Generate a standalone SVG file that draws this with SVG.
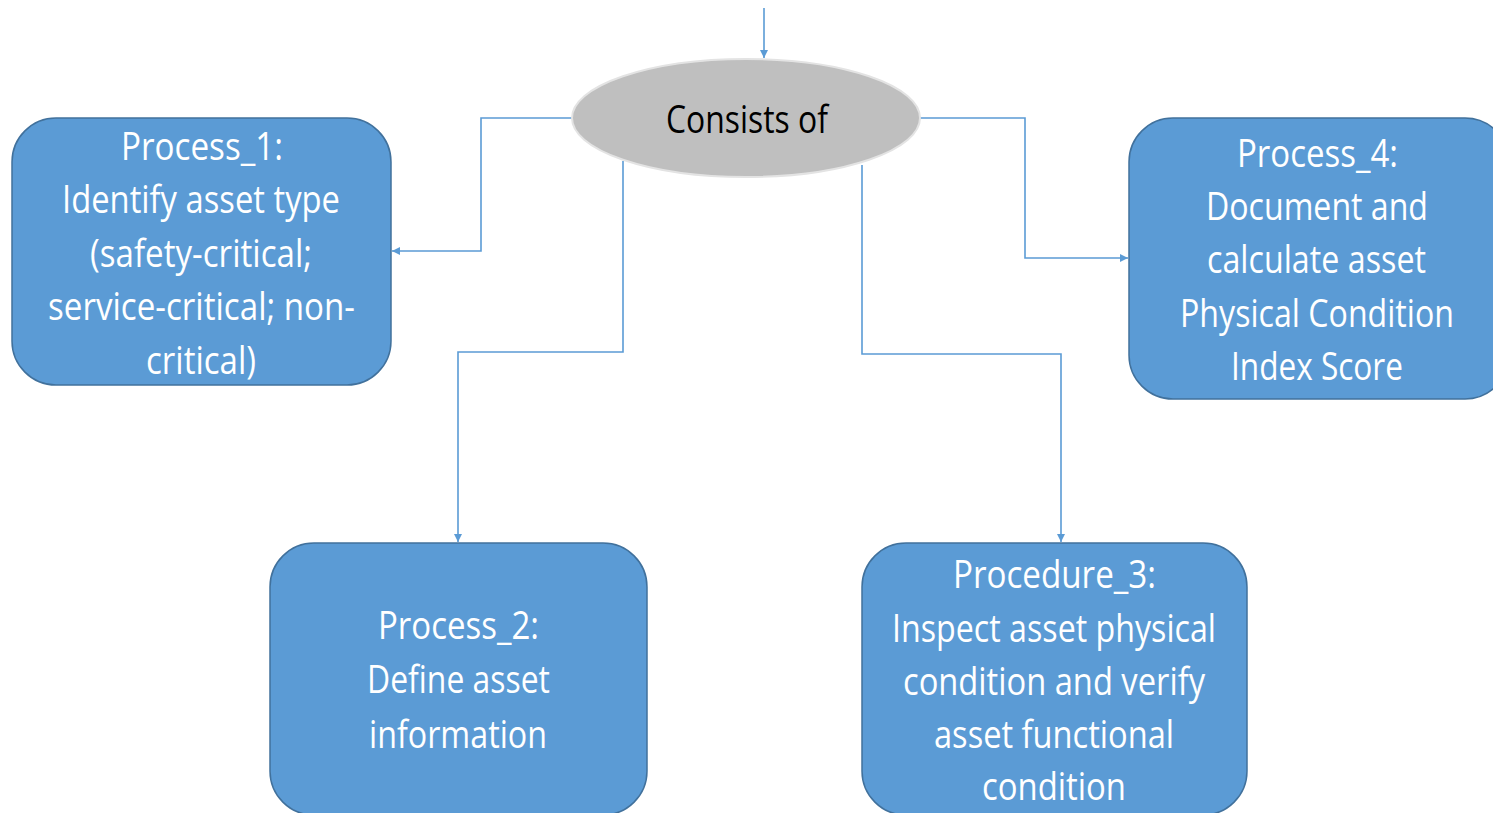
<svg xmlns="http://www.w3.org/2000/svg" width="1493" height="813" viewBox="0 0 1493 813">
  <style>
    .box { fill: #5b9bd5; stroke: #41719c; stroke-width: 1.5; }
    .oval { fill: #bfbfbf; stroke: #e3e3e3; stroke-width: 2; }
    .lbl { font-family: "Open Sans", "Noto Sans", sans-serif; font-size: 38px; fill: #ffffff; }
    .dark { fill: #000000; }
    .wire { fill: none; stroke: #5b9bd5; stroke-width: 1.6; }
  </style>
  <defs>
    <marker id="arrow" viewBox="0 0 10 10" refX="10" refY="5" markerWidth="8" markerHeight="8" markerUnits="userSpaceOnUse" orient="auto">
      <path d="M0,0 L10,5 L0,10 Z" fill="#5b9bd5"/>
    </marker>
  </defs>
  <rect width="1493" height="813" fill="#ffffff"/>

  <g id="connectors">
    <path class="wire" d="M764,8 V58" marker-end="url(#arrow)"/>
    <path class="wire" d="M572,118 H481 V251 H392" marker-end="url(#arrow)"/>
    <path class="wire" d="M920,118 H1025 V258 H1128" marker-end="url(#arrow)"/>
    <path class="wire" d="M623,161 V352 H458 V542" marker-end="url(#arrow)"/>
    <path class="wire" d="M862,165 V354 H1061 V542" marker-end="url(#arrow)"/>
  </g>

  <g id="consists-of">
    <ellipse class="oval" cx="746" cy="118" rx="174" ry="59"/>
    <text class="lbl dark" x="666" y="133" textLength="162" lengthAdjust="spacingAndGlyphs">Consists of</text>
  </g>

  <g id="process-1">
    <rect class="box" x="12" y="118" width="379" height="267" rx="44" ry="44"/>
    <text class="lbl" x="121" y="160" textLength="162" lengthAdjust="spacingAndGlyphs">Process_1:</text>
    <text class="lbl" x="62" y="213" textLength="278" lengthAdjust="spacingAndGlyphs">Identify asset type</text>
    <text class="lbl" x="90" y="267" textLength="222" lengthAdjust="spacingAndGlyphs">(safety-critical;</text>
    <text class="lbl" x="48" y="320" textLength="307" lengthAdjust="spacingAndGlyphs">service-critical; non-</text>
    <text class="lbl" x="146" y="374" textLength="110" lengthAdjust="spacingAndGlyphs">critical)</text>
  </g>

  <g id="process-4">
    <rect class="box" x="1129" y="118" width="380" height="281" rx="44" ry="44"/>
    <text class="lbl" x="1237" y="167" textLength="161" lengthAdjust="spacingAndGlyphs">Process_4:</text>
    <text class="lbl" x="1206" y="220" textLength="222" lengthAdjust="spacingAndGlyphs">Document and</text>
    <text class="lbl" x="1207" y="273" textLength="219" lengthAdjust="spacingAndGlyphs">calculate asset</text>
    <text class="lbl" x="1180" y="327" textLength="274" lengthAdjust="spacingAndGlyphs">Physical Condition</text>
    <text class="lbl" x="1231" y="380" textLength="172" lengthAdjust="spacingAndGlyphs">Index Score</text>
  </g>

  <g id="process-2">
    <rect class="box" x="270" y="543" width="377" height="272" rx="44" ry="44"/>
    <text class="lbl" x="378" y="639" textLength="161" lengthAdjust="spacingAndGlyphs">Process_2:</text>
    <text class="lbl" x="367" y="693" textLength="183" lengthAdjust="spacingAndGlyphs">Define asset</text>
    <text class="lbl" x="369" y="748" textLength="178" lengthAdjust="spacingAndGlyphs">information</text>
  </g>

  <g id="procedure-3">
    <rect class="box" x="862" y="543" width="385" height="272" rx="44" ry="44"/>
    <text class="lbl" x="953" y="588" textLength="203" lengthAdjust="spacingAndGlyphs">Procedure_3:</text>
    <text class="lbl" x="892" y="642" textLength="324" lengthAdjust="spacingAndGlyphs">Inspect asset physical</text>
    <text class="lbl" x="903" y="695" textLength="302" lengthAdjust="spacingAndGlyphs">condition and verify</text>
    <text class="lbl" x="934" y="748" textLength="240" lengthAdjust="spacingAndGlyphs">asset functional</text>
    <text class="lbl" x="982" y="800" textLength="144" lengthAdjust="spacingAndGlyphs">condition</text>
  </g>
</svg>
